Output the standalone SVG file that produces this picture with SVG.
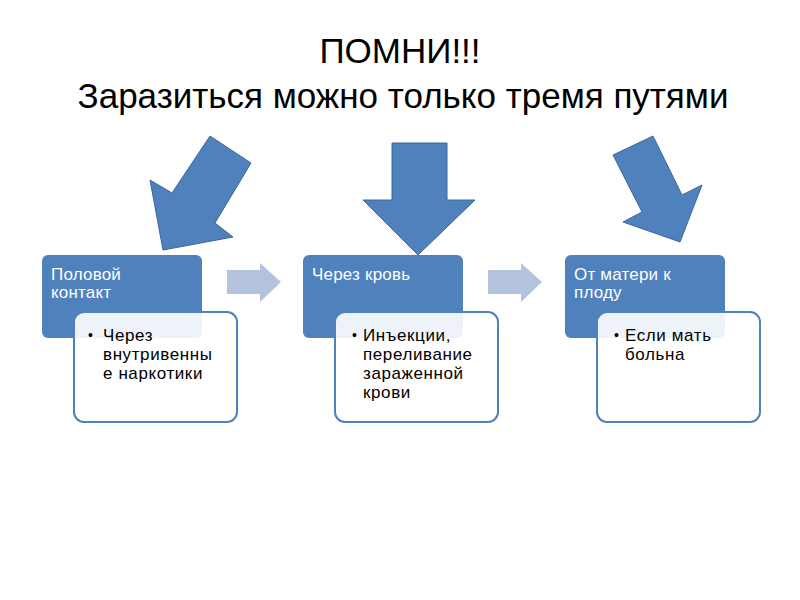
<svg xmlns="http://www.w3.org/2000/svg" width="800" height="600" viewBox="0 0 800 600">
<style>
.title{font-family:"Liberation Sans",Arial,sans-serif;font-size:35px;fill:#000;text-anchor:middle}
.big{fill:#4f81bd;stroke:#3d679a;stroke-width:1}
.hdr{fill:#4f81bd}
.sub{fill:#ffffff;fill-opacity:0.9;stroke:#4f81bd;stroke-width:2}
.ht{font-family:"Liberation Sans",Arial,sans-serif;font-size:17px;letter-spacing:0.2px;fill:#fff}
.bt{font-family:"Liberation Sans",Arial,sans-serif;font-size:17px;letter-spacing:0.6px;fill:#000}
.bul{font-family:"Liberation Sans",Arial,sans-serif;font-size:14px;fill:#000}
.gray{fill:#b4c3dd}
</style>
<rect width="800" height="600" fill="#fff"/>
<g id="title">
<text class="title" x="400" y="63">ПОМНИ!!!</text>
<text class="title" x="403" y="108">Заразиться можно только тремя путями</text>
</g>
<g id="connectors">
<polygon class="big" points="210,136 251,163 215,223 233,237 163,250 150,180 172,193"/>
<polygon class="big" points="392,143 447,143 447,200 475,200 418,255 363,200 392,200"/>
<polygon class="big" points="613,155 653,136 682,195 702,185 680,242 623,222 642,212"/>
<polygon class="gray" points="227,270 260,270 260,263 281,282 260,302 260,294 227,294"/>
<polygon class="gray" points="488,270 521,270 521,263 542,282 521,302 521,294 488,294"/>
</g>
<g id="node1">
<rect class="hdr" x="42" y="255" width="160" height="83" rx="6"/>
<text class="ht" x="51" y="280">Половой</text>
<text class="ht" x="51" y="298">контакт</text>
<rect class="sub" x="74" y="312" width="163" height="110" rx="10"/>
<text class="bul" x="88" y="340">•</text>
<text class="bt" x="103" y="341"> Через</text>
<text class="bt" x="103" y="360">внутривенны</text>
<text class="bt" x="103" y="379">е наркотики</text>
</g>
<g id="node2">
<rect class="hdr" x="303" y="255" width="160" height="83" rx="6"/>
<text class="ht" x="312" y="280">Через кровь</text>
<rect class="sub" x="335" y="312" width="163" height="110" rx="10"/>
<text class="bul" x="352" y="340">•</text>
<text class="bt" x="363" y="341">Инъекции,</text>
<text class="bt" x="363" y="360">переливание</text>
<text class="bt" x="363" y="379">зараженной</text>
<text class="bt" x="363" y="398">крови</text>
</g>
<g id="node3">
<rect class="hdr" x="565" y="255" width="160" height="83" rx="6"/>
<text class="ht" x="574" y="280">От матери к</text>
<text class="ht" x="574" y="298">плоду</text>
<rect class="sub" x="597" y="312" width="163" height="110" rx="10"/>
<text class="bul" x="614" y="340">•</text>
<text class="bt" x="625" y="341">Если мать</text>
<text class="bt" x="625" y="360">больна</text>
</g>
</svg>
